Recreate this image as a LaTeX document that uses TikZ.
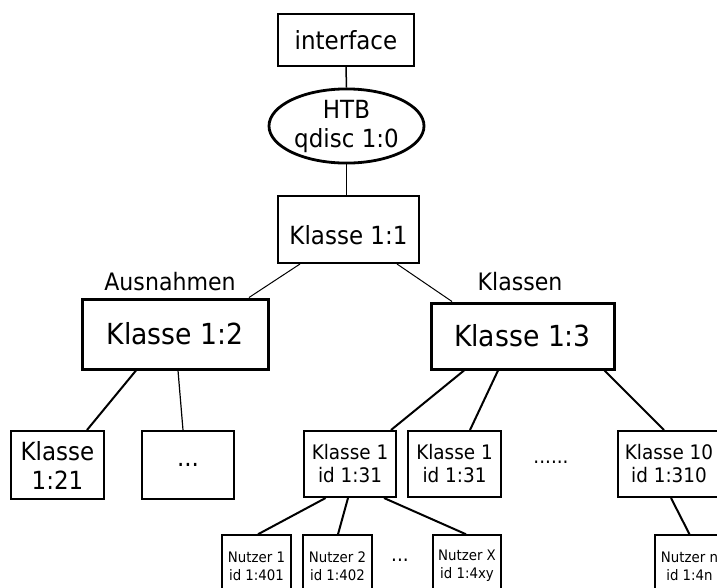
\documentclass[tikz,border=0pt]{standalone}
\usepackage{fontspec}
\setmainfont{DejaVu Sans}[FakeStretch=0.92]
\usetikzlibrary{shapes.geometric}
\begin{document}
\begin{tikzpicture}[x=1pt,y=-1pt,
  box/.style={draw, rectangle, inner sep=0pt, align=center},
  big/.style={font={\fontsize{29}{33}\selectfont}},
  mid/.style={font={\fontsize{25}{29}\selectfont}},
  sml/.style={font={\fontsize{20}{23}\selectfont}},
  tiny/.style={font={\fontsize{14.5}{18}\selectfont}},
  lbl/.style={font={\fontsize{24}{28}\selectfont}},
  conn/.style={draw, line width=2pt}]
\useasboundingbox (0,0) rectangle (717,587);
\clip (0,0) rectangle (717,587);

\node[box, font={\fontsize{25}{29}\selectfont}, line width=2pt, minimum width=136pt, minimum height=52pt] (iface) at (346,40) {interface};
\node[draw, ellipse, inner sep=0pt, line width=2.8pt, minimum width=155pt, minimum height=74pt, align=center,
      font={\fontsize{25}{29}\selectfont}] (htb) at (346.5,126) {HTB\\qdisc 1:0};
\node[box, mid, line width=2pt, minimum width=141pt, minimum height=67pt, text height=29pt, text depth=0pt] (k11) at (348.5,229.5) {Klasse 1:1};

\node[lbl] (aus) at (170,282) {Ausnahmen};
\node[lbl] (kls) at (520,282) {Klassen};

\node[box, big, line width=3pt, minimum width=186pt, minimum height=70pt] (k12) at (175,334) {Klasse 1:2};
\node[box, big, line width=3pt, minimum width=183pt, minimum height=66pt] (k13) at (522.5,336) {Klasse 1:3};

\node[box, mid, line width=2pt, minimum width=93pt, minimum height=68pt] (k121) at (57.5,465) {Klasse\\1:21};
\node[box, mid, line width=2pt, minimum width=92pt, minimum height=68pt] (kdots) at (188,465) {...};
\node[box, sml, line width=2pt, minimum width=92pt, minimum height=66pt] (kA) at (350,464) {Klasse 1\\id 1:31};
\node[box, sml, line width=2pt, minimum width=93pt, minimum height=66pt] (kB) at (454.5,464) {Klasse 1\\id 1:31};
\node[sml] (dots6) at (551,462) {......};
\node[box, sml, line width=2pt, minimum width=102pt, minimum height=66pt] (k10) at (669,464) {Klasse 10\\id 1:310};

\node[box, tiny, line width=1.5pt, minimum width=69pt, minimum height=62pt] (n1) at (256.5,566) {Nutzer 1\\id 1:401};
\node[box, tiny, line width=1.5pt, minimum width=69pt, minimum height=62pt] (n2) at (337.5,566) {Nutzer 2\\id 1:402};
\node[sml] (dots3) at (400,560) {...};
\node[box, tiny, line width=1.5pt, minimum width=68pt, minimum height=62pt] (nX) at (467,566) {Nutzer X\\id 1:4xy};
\node[box, tiny, line width=1.5pt, minimum width=69pt, minimum height=62pt] (nn) at (689.5,566) {Nutzer n\\id 1:4n};

\draw[line width=1.5pt] (iface.south) -- (htb.north);
\draw[line width=1.2pt] (htb.south) -- ([xshift=-2pt]k11.north);
\draw[line width=1pt] ([xshift=-48.5pt]k11.south) -- ([xshift=74pt]k12.north);
\draw[line width=1pt] ([xshift=48.5pt]k11.south) -- ([xshift=-70.5pt]k13.north);
\draw[conn] ([xshift=-39pt]k12.south) -- ([xshift=29.5pt]k121.north);
\draw[line width=1.2pt] ([xshift=3pt]k12.south) -- ([xshift=-5pt]kdots.north);
\draw[conn] ([xshift=-58.5pt]k13.south) -- ([xshift=41pt]kA.north);
\draw[conn] ([xshift=-24.5pt]k13.south) -- ([xshift=15.5pt]kB.north);
\draw[conn] ([xshift=82pt]k13.south) -- ([xshift=-5pt]k10.north);
\draw[conn] ([xshift=-24.4pt]kA.south) -- ([xshift=1.5pt]n1.north);
\draw[conn] ([xshift=-2pt]kA.south) -- ([xshift=0.5pt]n2.north);
\draw[conn] ([xshift=34pt]kA.south) -- ([xshift=-1pt]nX.north);
\draw[conn] ([xshift=2pt]k10.south) -- (nn.north);
\end{tikzpicture}
\end{document}
